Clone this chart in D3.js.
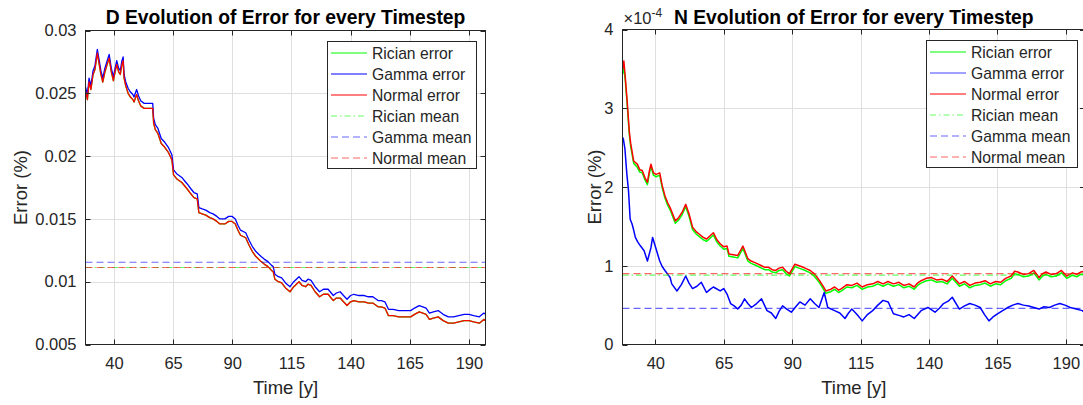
<!DOCTYPE html>
<html>
<head>
<meta charset="utf-8">
<script src="https://cdn.jsdelivr.net/npm/d3@7"></script>
<style>
  body { margin: 0; background: #fff; }
  text { font-family: "Liberation Sans", Arial, Helvetica, sans-serif; fill: #262626; }
</style>
</head>
<body>
<svg id="chart" width="1083" height="405"></svg>
<script>
// ---- data ----
const timeDomain = [28, 197];
const xTicks = [40, 65, 90, 115, 140, 165, 190];
const dTicks = [0.005, 0.01, 0.015, 0.02, 0.025, 0.03];
const nTicks = [0, 1, 2, 3, 4];   // N panel values are in units of 1e-4
const seriesNames = ["Rician error", "Gamma error", "Normal error", "Rician mean", "Gamma mean", "Normal mean"];

// D panel: [time, error]
const gammaD = [[28,0.0255],[28.8,0.0249],[29.5,0.0262],[30.3,0.0256],[31.2,0.0268],[32,0.0272],[33,0.0285],[33.8,0.0276],[34.5,0.0268],[35.3,0.0262],[36.2,0.0270],[37,0.0275],[38,0.0281],[38.9,0.0270],[39.8,0.0263],[40.5,0.0270],[41.2,0.0276],[42,0.0270],[42.7,0.0268],[43.4,0.0276],[43.9,0.0279],[44.3,0.0265],[45,0.0259],[46,0.0254],[47,0.0251],[48,0.0249],[48.5,0.0247],[49.6,0.0253],[50.4,0.0248],[51.3,0.0244],[52.8,0.0242],[54.5,0.0242],[56.4,0.0242],[56.8,0.0230],[57.5,0.0225],[58.6,0.0222],[60,0.0214],[61.5,0.0211],[63,0.0207],[64.5,0.0201],[65.2,0.0189],[66.5,0.0186],[68.7,0.0183],[70,0.0180],[70.9,0.0178],[72.5,0.0174],[73.8,0.0171],[75.2,0.0170],[75.9,0.0159],[77.3,0.0158],[78.8,0.0157],[80.5,0.0155],[81.9,0.0154],[83.5,0.0152],[84.8,0.0150],[86.9,0.0150],[88.5,0.0152],[89.9,0.0152],[91.3,0.0150],[92.4,0.0145],[93.5,0.0141],[95.7,0.0139],[97.1,0.0133],[98.5,0.0128],[100,0.0124],[102.2,0.0120],[103.5,0.0118],[105.1,0.0116],[106.6,0.0113],[107.3,0.0112],[108,0.0106],[109.5,0.0104],[110.9,0.0103],[112.5,0.0099],[114.4,0.0096],[116,0.0100],[118.2,0.0104],[119.5,0.0101],[121,0.0100],[122,0.0102],[123.3,0.0101],[125,0.0096],[126.9,0.0092],[128.5,0.0094],[130.5,0.0094],[132.7,0.0089],[134,0.0091],[135.6,0.0092],[137,0.0089],[138.5,0.0086],[140,0.0089],[141.4,0.0090],[143.5,0.0089],[145.8,0.0089],[147.5,0.0088],[149.4,0.0088],[151.6,0.0085],[153,0.0085],[154.5,0.0084],[156,0.0078],[158,0.0078],[160.3,0.0077],[163,0.0077],[165.4,0.0077],[167,0.0079],[169,0.0081],[170.5,0.0080],[171.9,0.0079],[173.3,0.0075],[175,0.0076],[177,0.0077],[179.1,0.0074],[181.3,0.0072],[183.5,0.0072],[185.7,0.0073],[188,0.0074],[190,0.0074],[192,0.0073],[194.4,0.0072],[196.3,0.0075],[197,0.0074]];
const normalD = [[28,0.0252],[28.8,0.0245],[29.5,0.0259],[30.3,0.0253],[31.2,0.0265],[32,0.0269],[33,0.0282],[33.8,0.0273],[34.5,0.0265],[35.3,0.0259],[36.2,0.0267],[37,0.0272],[38,0.0278],[38.9,0.0267],[39.8,0.0260],[40.5,0.0267],[41.2,0.0273],[42,0.0267],[42.7,0.0265],[43.4,0.0273],[43.9,0.0276],[44.3,0.0262],[45,0.0256],[46,0.0250],[47,0.0247],[48,0.0245],[48.5,0.0243],[49.6,0.0249],[50.4,0.0244],[51.3,0.0240],[52.8,0.0238],[54.5,0.0238],[56.4,0.0238],[56.8,0.0226],[57.5,0.0221],[58.6,0.0218],[60,0.0210],[61.5,0.0207],[63,0.0203],[64.5,0.0197],[65.2,0.0185],[66.5,0.0182],[68.7,0.0179],[70,0.0176],[70.9,0.0174],[72.5,0.0170],[73.8,0.0167],[75.2,0.0166],[75.9,0.0155],[77.3,0.0154],[78.8,0.0153],[80.5,0.0151],[81.9,0.0150],[83.5,0.0148],[84.8,0.0146],[86.9,0.0146],[88.5,0.0148],[89.9,0.0148],[91.3,0.0146],[92.4,0.0141],[93.5,0.0137],[95.7,0.0135],[97.1,0.0129],[98.5,0.0124],[100,0.0120],[102.2,0.0116],[103.5,0.0114],[105.1,0.0112],[106.6,0.0109],[107.3,0.0108],[108,0.0102],[109.5,0.0100],[110.9,0.0099],[112.5,0.0095],[114.4,0.0092],[116,0.0096],[118.2,0.0100],[119.5,0.0097],[121,0.0096],[122,0.0098],[123.3,0.0097],[125,0.0092],[126.9,0.0088],[128.5,0.0090],[130.5,0.0090],[132.7,0.0085],[134,0.0087],[135.6,0.0087],[137,0.0084],[138.5,0.0081],[140,0.0084],[141.4,0.0085],[143.5,0.0084],[145.8,0.0084],[147.5,0.0083],[149.4,0.0083],[151.6,0.0080],[153,0.0080],[154.5,0.0079],[156,0.0073],[158,0.0073],[160.3,0.0072],[163,0.0072],[165.4,0.0072],[167,0.0074],[169,0.0076],[170.5,0.0075],[171.9,0.0074],[173.3,0.0070],[175,0.0071],[177,0.0072],[179.1,0.0069],[181.3,0.0067],[183.5,0.0067],[185.7,0.0068],[188,0.0069],[190,0.0069],[192,0.0068],[194.4,0.0067],[196.3,0.0070],[197,0.0069]];
// the Rician curve sits exactly under the Normal one in the D panel
const ricianD = normalD;
const meansD = [0.01113, 0.01155, 0.01113]; // rician, gamma, normal

// N panel: [time, error x 1e-4]
const ricianN = [[28,3.43],[28.5,3.52],[29,3.36],[29.7,3.05],[30.5,2.66],[31,2.51],[32.1,2.30],[33.4,2.25],[34.3,2.19],[35.2,2.18],[36.2,2.09],[37.1,2.03],[37.8,2.17],[38.4,2.26],[39.3,2.15],[40.3,2.13],[41.6,2.15],[42.5,1.99],[43.5,1.86],[44.5,1.77],[45.4,1.71],[46.4,1.62],[47.3,1.54],[48.5,1.58],[49.8,1.65],[51.1,1.75],[52.3,1.63],[53.6,1.46],[55,1.40],[56.1,1.37],[57.5,1.33],[58.7,1.31],[60,1.35],[61.2,1.39],[62.5,1.30],[63.7,1.25],[65,1.21],[66.2,1.22],[66.9,1.12],[68.5,1.11],[70.1,1.10],[72,1.22],[73.8,1.06],[75,1.03],[76.4,1.01],[77.6,0.99],[78.8,0.97],[80,0.95],[81.4,0.95],[82.7,0.92],[84,0.91],[85.2,0.94],[86.5,0.95],[87.8,0.90],[89,0.87],[90,0.93],[91,0.99],[92.5,0.97],[94.1,0.95],[95.3,0.93],[96.6,0.91],[98,0.87],[99.2,0.82],[100.4,0.76],[101.3,0.71],[102.3,0.65],[104,0.67],[105.5,0.70],[107,0.66],[108,0.68],[110,0.73],[111.8,0.72],[113.7,0.75],[115.6,0.70],[117.5,0.73],[119.4,0.74],[121.3,0.77],[123.2,0.74],[125,0.77],[127,0.74],[129,0.76],[130.8,0.72],[132.7,0.74],[134.6,0.70],[135.8,0.75],[137.1,0.78],[139,0.81],[140.9,0.82],[142.8,0.79],[144.7,0.80],[146.6,0.77],[148.5,0.84],[149.8,0.79],[151.1,0.74],[153,0.77],[154.9,0.72],[156.8,0.75],[158.7,0.76],[160.5,0.78],[162.4,0.74],[164.3,0.77],[166.2,0.76],[168,0.81],[170,0.84],[171.3,0.90],[172.5,0.89],[174.5,0.86],[176.4,0.87],[178.3,0.91],[180.2,0.82],[181.5,0.87],[182.7,0.89],[184.6,0.86],[186.5,0.87],[188.4,0.91],[190.3,0.84],[192.5,0.88],[194,0.86],[195.4,0.89],[197,0.90]];
const gammaN = [[28,2.63],[28.3,2.61],[28.9,2.48],[29.6,2.16],[30.2,1.95],[30.8,1.59],[31.5,1.53],[32.1,1.45],[32.7,1.36],[33.6,1.30],[34.6,1.25],[35.9,1.19],[37.1,1.06],[38.4,1.23],[39,1.36],[39.7,1.28],[40.3,1.21],[41.6,1.06],[42.5,0.99],[43.5,0.94],[45.4,0.85],[46,0.77],[47.9,0.68],[49.5,0.76],[51.1,0.87],[52.3,0.78],[53.6,0.71],[55.2,0.74],[56.8,0.79],[58.7,0.66],[60,0.70],[61.2,0.73],[63.7,0.68],[65,0.71],[66.2,0.64],[67.5,0.52],[68.8,0.49],[70.1,0.45],[71.4,0.50],[72.6,0.58],[73.8,0.52],[75.1,0.47],[77,0.52],[78.8,0.58],[80.8,0.43],[82.4,0.40],[84,0.33],[85.2,0.42],[86.5,0.49],[88,0.45],[89.7,0.41],[91.3,0.48],[92.8,0.54],[94.7,0.50],[96.6,0.58],[98.2,0.52],[99.8,0.47],[101.7,0.66],[103,0.47],[105.5,0.43],[107.4,0.40],[109.3,0.33],[110.6,0.40],[111.8,0.45],[113.7,0.38],[115.6,0.30],[117.5,0.38],[119.4,0.43],[121.3,0.50],[123.2,0.56],[125.1,0.54],[127,0.39],[129,0.37],[130.8,0.35],[132.7,0.38],[134.6,0.33],[137.1,0.43],[139.6,0.47],[142.2,0.41],[143.8,0.46],[145.3,0.52],[147,0.55],[148.5,0.60],[151.1,0.45],[153,0.49],[154.9,0.52],[156.8,0.50],[158.7,0.47],[160.3,0.38],[161.9,0.30],[163.4,0.35],[165,0.39],[166.9,0.43],[168.8,0.47],[170.6,0.50],[172.5,0.52],[174.5,0.50],[176.4,0.49],[178.3,0.47],[180.2,0.45],[182,0.48],[184,0.47],[185.9,0.50],[187.8,0.52],[189.7,0.50],[191.6,0.47],[193.8,0.45],[196,0.43],[197,0.40]];
const normalN = [[28,3.49],[28.5,3.60],[29,3.40],[29.7,3.09],[30.5,2.70],[31,2.55],[32.1,2.33],[33.4,2.29],[34.3,2.22],[35.2,2.21],[36.2,2.12],[37.1,2.06],[37.8,2.20],[38.4,2.29],[39.3,2.18],[40.3,2.16],[41.6,2.18],[42.5,2.02],[43.5,1.89],[44.5,1.80],[45.4,1.74],[46.4,1.65],[47.3,1.57],[48.5,1.61],[49.8,1.68],[51.1,1.78],[52.3,1.66],[53.6,1.49],[55,1.43],[56.1,1.40],[57.5,1.36],[58.7,1.34],[60,1.38],[61.2,1.42],[62.5,1.33],[63.7,1.28],[65,1.24],[66.2,1.25],[66.9,1.15],[68.5,1.14],[70.1,1.13],[72,1.25],[73.8,1.09],[75,1.06],[76.4,1.04],[77.6,1.02],[78.8,1.00],[80,0.98],[81.4,0.98],[82.7,0.95],[84,0.94],[85.2,0.97],[86.5,0.98],[87.8,0.93],[89,0.90],[90,0.96],[91,1.02],[92.5,1.00],[94.1,0.98],[95.3,0.96],[96.6,0.94],[98,0.90],[99.2,0.85],[100.4,0.79],[101.3,0.74],[102.3,0.68],[104,0.70],[105.5,0.73],[107,0.69],[108,0.71],[110,0.76],[111.8,0.75],[113.7,0.78],[115.6,0.73],[117.5,0.76],[119.4,0.77],[121.3,0.80],[123.2,0.77],[125,0.80],[127,0.77],[129,0.79],[130.8,0.75],[132.7,0.77],[134.6,0.73],[135.8,0.78],[137.1,0.81],[139,0.84],[140.9,0.85],[142.8,0.82],[144.7,0.83],[146.6,0.80],[148.5,0.87],[149.8,0.82],[151.1,0.77],[153,0.80],[154.9,0.75],[156.8,0.78],[158.7,0.79],[160.5,0.81],[162.4,0.77],[164.3,0.80],[166.2,0.79],[168,0.84],[170,0.87],[171.3,0.93],[172.5,0.92],[174.5,0.89],[176.4,0.90],[178.3,0.94],[180.2,0.85],[181.5,0.90],[182.7,0.92],[184.6,0.89],[186.5,0.90],[188.4,0.94],[190.3,0.87],[192.5,0.91],[194,0.89],[195.4,0.92],[197,0.93]];
const meansN = [0.88, 0.46, 0.90];

// ---- drawing ----
const svg = d3.select("#chart");
const axisColor = "#262626";
const gridColor = "#dfdfdf";

// line styles for the six legend entries
const styles = [
  { color: "#00ff00", dash: null, opacity: 1 },
  { color: "#0000ff", dash: null, opacity: 1 },
  { color: "#ff0000", dash: null, opacity: 1 },
  { color: "#00ff00", dash: "6,3,1.5,3", opacity: 0.6 },
  { color: "#0000ff", dash: "7,4", opacity: 0.6 },
  { color: "#ff0000", dash: "7,4", opacity: 0.6 }
];

function drawPanel(p) {
  const g = svg.append("g");
  const x = d3.scaleLinear().domain(timeDomain).range([p.left, p.right]);
  const y = d3.scaleLinear().domain(p.yDomain).range([p.bottom, p.top]);

  // grid
  g.selectAll(".gx").data(xTicks).enter().append("line")
    .attr("x1", d => Math.round(x(d)) + 0.5).attr("x2", d => Math.round(x(d)) + 0.5)
    .attr("y1", p.top).attr("y2", p.bottom)
    .attr("stroke", gridColor);
  g.selectAll(".gy").data(p.yTicks.slice(1, -1)).enter().append("line")
    .attr("y1", d => Math.round(y(d)) + 0.5).attr("y2", d => Math.round(y(d)) + 0.5)
    .attr("x1", p.left).attr("x2", p.right)
    .attr("stroke", gridColor);

  // clip for the data
  const clipId = "clip" + p.id;
  svg.append("clipPath").attr("id", clipId)
    .append("rect").attr("x", p.left).attr("y", p.top)
    .attr("width", p.right - p.left).attr("height", p.bottom - p.top);
  const plot = g.append("g").attr("clip-path", "url(#" + clipId + ")");

  const line = d3.line().x(d => x(d[0])).y(d => y(d[1]));
  p.series.forEach((s, i) => {
    plot.append("path").datum(s)
      .attr("d", line)
      .attr("fill", "none")
      .attr("stroke", styles[i].color)
      .attr("stroke-width", p.lineWidth)
      .attr("stroke-linejoin", "round");
  });
  p.means.forEach((m, i) => {
    const st = styles[i + 3];
    plot.append("line")
      .attr("x1", x(timeDomain[0])).attr("x2", x(timeDomain[1]))
      .attr("y1", y(m)).attr("y2", y(m))
      .attr("stroke", st.color).attr("stroke-opacity", st.opacity)
      .attr("stroke-width", 1.2)
      .attr("stroke-dasharray", st.dash);
  });

  // box
  g.append("rect")
    .attr("x", p.left).attr("y", p.top)
    .attr("width", p.right - p.left).attr("height", p.bottom - p.top)
    .attr("fill", "none").attr("stroke", axisColor).attr("stroke-width", 1);

  // inward ticks on all four sides
  const tl = 5;
  xTicks.forEach(t => {
    const xx = Math.round(x(t)) + 0.5;
    g.append("line").attr("x1", xx).attr("x2", xx).attr("y1", p.bottom).attr("y2", p.bottom - tl).attr("stroke", axisColor);
    g.append("line").attr("x1", xx).attr("x2", xx).attr("y1", p.top).attr("y2", p.top + tl).attr("stroke", axisColor);
  });
  p.yTicks.forEach(t => {
    const yy = Math.round(y(t)) + 0.5;
    g.append("line").attr("x1", p.left).attr("x2", p.left + tl).attr("y1", yy).attr("y2", yy).attr("stroke", axisColor);
    g.append("line").attr("x1", p.right).attr("x2", p.right - tl).attr("y1", yy).attr("y2", yy).attr("stroke", axisColor);
  });

  // tick labels through d3 axes
  const xAxis = g.append("g").attr("transform", `translate(0,${p.bottom})`)
    .call(d3.axisBottom(x).tickValues(xTicks).tickSize(0).tickPadding(13));
  const yAxis = g.append("g").attr("transform", `translate(${p.left},0)`)
    .call(d3.axisLeft(y).tickValues(p.yTicks).tickSize(0).tickPadding(9).tickFormat(d3.format("~g")));
  [xAxis, yAxis].forEach(a => {
    a.select(".domain").remove();
    a.selectAll("text").attr("fill", axisColor).style("font-size", "16.5px").attr("font-family", null);
  });

  // axis labels
  g.append("text")
    .attr("x", (p.left + p.right) / 2).attr("y", 394)
    .attr("text-anchor", "middle").style("font-size", "18.5px")
    .text("Time [y]");
  g.append("text")
    .attr("transform", `translate(${p.left - p.yLabelGap},${(p.top + p.bottom) / 2}) rotate(-90)`)
    .attr("text-anchor", "middle").style("font-size", "18.5px")
    .text("Error (%)");

  // title
  g.append("text")
    .attr("x", (p.left + p.right) / 2).attr("y", 23.5)
    .attr("text-anchor", "middle")
    .style("font-size", "19.3px").style("font-weight", "bold").style("fill", "#000")
    .text(p.title);

  // exponent marker
  if (p.exponent) {
    const ex = g.append("text").attr("x", p.left + 1).attr("y", 24).style("font-size", "16.5px");
    ex.append("tspan").text("\u00d710");
    ex.append("tspan").attr("dy", -7).style("font-size", "12px").text(p.exponent);
  }

  // legend
  const lg = g.append("g").attr("transform", `translate(${p.legend[0]},${p.legend[1]})`);
  lg.append("rect").attr("x", 0.5).attr("y", 0.5)
    .attr("width", p.legend[2]).attr("height", 127)
    .attr("fill", "#fff").attr("stroke", axisColor).attr("stroke-width", 1);
  seriesNames.forEach((name, i) => {
    const yy = 12 + i * 21;
    const st = styles[i];
    const ov = (p.legendOverride && p.legendOverride[i]) || {};
    lg.append("line")
      .attr("x1", 4).attr("x2", 40).attr("y1", yy).attr("y2", yy)
      .attr("stroke", ov.color || st.color)
      .attr("stroke-opacity", st.opacity)
      .attr("stroke-width", ov.width || 1.1)
      .attr("stroke-dasharray", st.dash);
    lg.append("text").attr("x", 45).attr("y", yy + 5.5)
      .style("font-size", "15.7px").text(name);
  });
}

drawPanel({
  id: "D", left: 85.5, right: 485.5, top: 30.5, bottom: 344.5,
  yDomain: [0.005, 0.03], yTicks: dTicks, yLabelGap: 59, lineWidth: 1.3,
  series: [ricianD, gammaD, normalD], means: meansD,
  title: "D Evolution of Error for every Timestep",
  legend: [327, 41, 149]
});

drawPanel({
  id: "N", left: 622.5, right: 1085, top: 29.5, bottom: 344.5,
  yDomain: [0, 4], yTicks: nTicks, yLabelGap: 22, lineWidth: 1.5,
  series: [ricianN, gammaN, normalN], means: meansN,
  title: "N Evolution of Error for every Timestep", exponent: "-4",
  legend: [926, 40, 151],
  legendOverride: { 1: { color: "#8080ff", width: 1.6 } }
});
</script>
</body>
</html>
